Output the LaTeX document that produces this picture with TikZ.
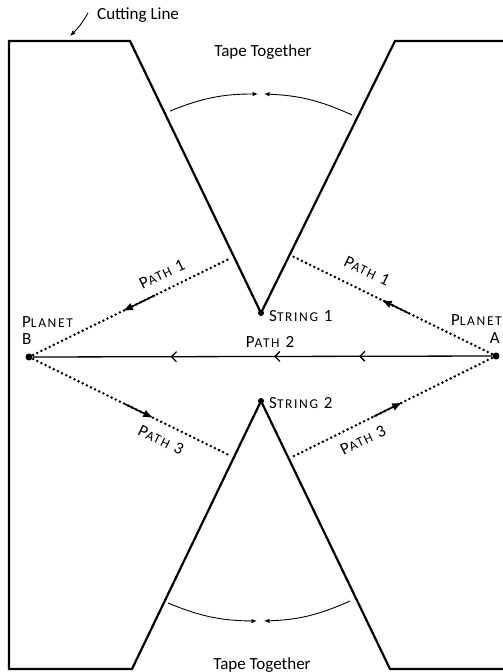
\documentclass[tikz,border=0pt]{standalone}
\usepackage{fontspec}
\setmainfont{Carlito}
\newfontfamily\labfont[LetterSpace=12]{Carlito}
\usetikzlibrary{arrows.meta,decorations.markings,calc}
\newcommand\bigf{\fontsize{17}{17}\selectfont}
\newcommand\smf{\fontsize{13.5}{13.5}\selectfont}
\newcommand\scl[3]{\labfont{\bigf #1}{\smf #2}{\bigf #3}}
\begin{document}
\begin{tikzpicture}[x=1pt,y=-1pt,
 outline/.style={line width=2.2pt, line join=miter},
 dotline/.style={line width=2.8pt, dash pattern=on 0pt off 4.6pt, line cap=round},
 solidarr/.style={line width=1.6pt, -{Latex[length=10pt,width=8pt]}},
 tapearr/.style={line width=0.9pt, -{Latex[length=5.5pt,width=4.5pt]}},
 lab/.style={inner sep=0pt, font=\fontsize{17}{17}\selectfont},
 dot/.style={circle, fill, inner sep=0pt, minimum size=#1},
 barbtip/.tip={Straight Barb[length=5pt,width=10pt,line width=1.3pt]},
]
\useasboundingbox (0,0) rectangle (503,672);
% outline of the cut sheet
\draw[outline] (503,41) -- (395,41) -- (261,313) -- (130,41) -- (9,41) -- (9,669)
  -- (132,669) -- (261,401) -- (390,669) -- (503,669);
% points
\node[dot=6pt] (S1) at (261,313) {};
\node[dot=6pt] (S2) at (261,401) {};
\node[dot=7pt] (B) at (29,357) {};
\node[dot=7pt] (A) at (496,356) {};
\coordinate (P1L) at (231,258);
\coordinate (P1R) at (292,256);
\coordinate (P3L) at (231,456);
\coordinate (P3R) at (292,457);
% dotted paths
\draw[dotline] (B.center) -- (P1L);
\draw[dotline] (A.center) -- (P1R);
\draw[dotline] (B.center) -- (P3L);
\draw[dotline] (A.center) -- (P3R);
% solid arrows on the dotted paths
\draw[solidarr] ($(B)!0.624!(P1L)$) -- ($(B)!0.465!(P1L)$);
\draw[solidarr] ($(A)!0.43!(P1R)$) -- ($(A)!0.56!(P1R)$);
\draw[solidarr] ($(B)!0.475!(P3L)$) -- ($(B)!0.615!(P3L)$);
\draw[solidarr] ($(A)!0.60!(P3R)$) -- ($(A)!0.46!(P3R)$);
% path 2
\draw[line width=1.3pt, postaction={decorate}, decoration={markings,
  mark=at position 0.29 with {\arrow{barbtip}},
  mark=at position 0.475 with {\arrow{barbtip}},
  mark=at position 0.70 with {\arrow{barbtip}}}] (A) -- (B);
% tape arcs
\coordinate (T1) at (170,111); \coordinate (T2) at (258,94);
\coordinate (T3) at (352,115); \coordinate (T4) at (264,94);
\draw[tapearr] (T1) to[bend left=11] (T2);
\draw[tapearr] (T3) to[bend right=11] (T4);
\coordinate (U1) at (168,603); \coordinate (U2) at (257,621);
\coordinate (U3) at (350,601); \coordinate (U4) at (264,621);
\draw[tapearr] (U1) to[bend right=11] (U2);
\draw[tapearr] (U3) to[bend left=11] (U4);
% cutting line label
\node[lab, anchor=base west] (cut) at (97,19) {Cutting Line};
\coordinate (C1) at (88,13); \coordinate (C2) at (70,36);
\draw[tapearr] (C1) to[bend left=8] (C2);
\node[lab, anchor=base] (tape1) at (263,56) {Tape Together};
\node[lab, anchor=base] (tape2) at (262,669) {Tape Together};
% planet labels
\node[lab, anchor=base west] (plB) at (22,327) {\scl{P}{LANET}{}};
\node[lab, anchor=base west] (lB) at (22,344) {\labfont\bigf B};
\node[lab, anchor=base east] (plA) at (502,325) {\scl{P}{LANET}{}};
\node[lab, anchor=base east] (lA) at (500,343) {\labfont\bigf A};
% string labels
\node[lab, anchor=base west] (ls1) at (269,321) {\scl{S}{TRING}{\ 1}};
\node[lab, anchor=base west] (ls2) at (269,408) {\scl{S}{TRING}{\ 2}};
% path labels
\node[lab, anchor=base] (p2) at (270,347) {\scl{P}{ATH}{\ 2}};
\node[lab, rotate=26] (p1l) at (162,274) {\scl{P}{ATH}{\ 1}};
\node[lab, rotate=-26] (p1r) at (367,271) {\scl{P}{ATH}{\ 1}};
\node[lab, rotate=-26] (p3l) at (161,440) {\scl{P}{ATH}{\ 3}};
\node[lab, rotate=26] (p3r) at (363,440) {\scl{P}{ATH}{\ 3}};
\end{tikzpicture}
\end{document}
